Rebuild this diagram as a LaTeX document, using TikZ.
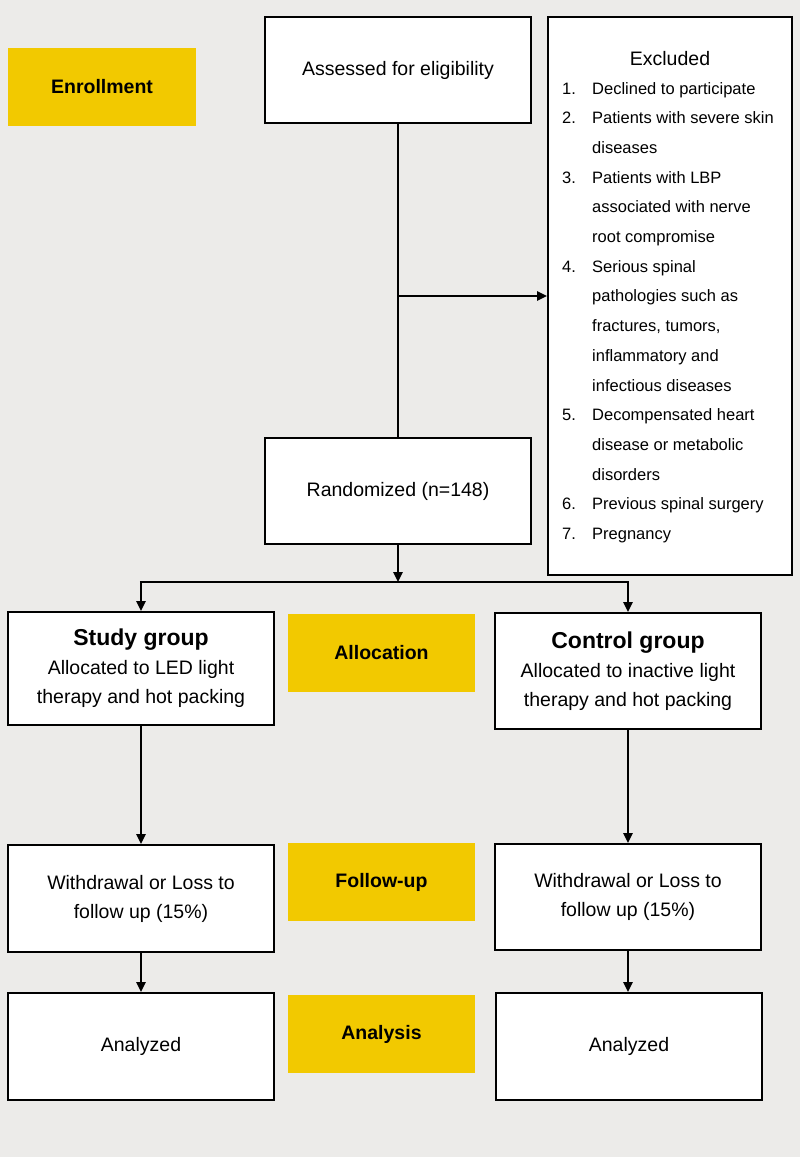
\documentclass[tikz,border=0pt]{standalone}
\usepackage{fontspec}
\setmainfont{Liberation Sans}
\usetikzlibrary{arrows.meta}
\definecolor{bgc}{HTML}{ECEBE9}
\definecolor{yel}{HTML}{F2C900}
\begin{document}
\begin{tikzpicture}[x=1pt,y=-1pt,
  box/.style={draw=black,line width=1.7pt,fill=white,inner sep=0pt,align=center,
    font=\fontsize{19.5}{29}\selectfont},
  ybox/.style={fill=yel,inner sep=0pt,minimum width=187pt,minimum height=78pt,
    font=\fontsize{19.5}{24}\selectfont\bfseries},
  conn/.style={line width=2.4pt,draw=black},
  arr/.style={conn,-{Triangle[length=10pt,width=9pt]}},
  item/.style={anchor=base west,inner sep=0pt,font=\fontsize{16.5}{20}\selectfont}]
\useasboundingbox (0,0) rectangle (800,1157);
\fill[bgc] (0,0) rectangle (800,1157);
% phase labels
\node[ybox,minimum width=188pt] (enroll) at (102,87) {Enrollment};
\node[ybox] (alloc) at (381.5,653) {Allocation};
\node[ybox] (follow) at (381.5,882) {Follow-up};
\node[ybox] (analysis) at (381.5,1034) {Analysis};
% boxes
\node[box,minimum width=266pt,minimum height=106pt] (assess) at (398,70) {Assessed for eligibility};
\node[box,minimum width=244pt,minimum height=558pt] (excl) at (670,296) {};
\node[box,minimum width=266pt,minimum height=106pt] (rand) at (398,491) {Randomized (n=148)};
\node[box,minimum width=266pt,minimum height=113pt] (study) at (141,668.5)
  {{\fontsize{23}{29}\selectfont\bfseries Study group}\\Allocated to LED light\\therapy and hot packing};
\node[box,minimum width=266pt,minimum height=116pt] (control) at (628,671)
  {{\fontsize{23}{29}\selectfont\bfseries Control group}\\Allocated to inactive light\\therapy and hot packing};
\node[box,minimum width=266pt,minimum height=107pt] (wdS) at (141,898.5)
  {Withdrawal or Loss to\\follow up (15\%)};
\node[box,minimum width=266pt,minimum height=106pt] (wdC) at (628,897)
  {Withdrawal or Loss to\\follow up (15\%)};
\node[box,minimum width=266pt,minimum height=107pt] (anS) at (141,1046.5) {Analyzed};
\node[box,minimum width=266pt,minimum height=107pt] (anC) at (629,1046.5) {Analyzed};
% excluded text
\node[anchor=base,inner sep=0pt,font=\fontsize{19.5}{24}\selectfont] (exclt) at (670,65) {Excluded};
\node[item] (n1) at (562,94.0) {1.};
\node[item] (t1) at (592,94.0) {Declined to participate};
\node[item] (n2) at (562,123.7) {2.};
\node[item] (t2) at (592,123.7) {Patients with severe skin};
\node[item] (t2b) at (592,153.4) {diseases};
\node[item] (n3) at (562,183.1) {3.};
\node[item] (t3) at (592,183.1) {Patients with LBP};
\node[item] (t3b) at (592,212.8) {associated with nerve};
\node[item] (t3c) at (592,242.5) {root compromise};
\node[item] (n4) at (562,272.2) {4.};
\node[item] (t4) at (592,272.2) {Serious spinal};
\node[item] (t4b) at (592,301.9) {pathologies such as};
\node[item] (t4c) at (592,331.6) {fractures, tumors,};
\node[item] (t4d) at (592,361.3) {inflammatory and};
\node[item] (t4e) at (592,391.0) {infectious diseases};
\node[item] (n5) at (562,420.7) {5.};
\node[item] (t5) at (592,420.7) {Decompensated heart};
\node[item] (t5b) at (592,450.4) {disease or metabolic};
\node[item] (t5c) at (592,480.1) {disorders};
\node[item] (n6) at (562,509.8) {6.};
\node[item] (t6) at (592,509.8) {Previous spinal surgery};
\node[item] (n7) at (562,539.5) {7.};
\node[item] (t7) at (592,539.5) {Pregnancy};
% connectors
\coordinate (br) at (assess.south |- excl.west);
\coordinate (split) at (398,582);
\coordinate (splitL) at (study.north |- split);
\coordinate (splitR) at (control.north |- split);
\draw[conn] (assess.south) -- (rand.north);
\draw[arr] (br) -- (excl.west);
\draw[arr] (rand.south) -- (split);
\draw[conn] ([xshift=-1.2pt]splitL) -- ([xshift=1.2pt]splitR);
\draw[arr] (splitL) -- (study.north);
\draw[arr] (splitR) -- (control.north);
\draw[arr] (study.south) -- (study.south |- wdS.north);
\draw[arr] (control.south) -- (control.south |- wdC.north);
\draw[arr] (wdS.south) -- (wdS.south |- anS.north);
\draw[arr] (wdC.south) -- (wdC.south |- anC.north);
\end{tikzpicture}
\end{document}
